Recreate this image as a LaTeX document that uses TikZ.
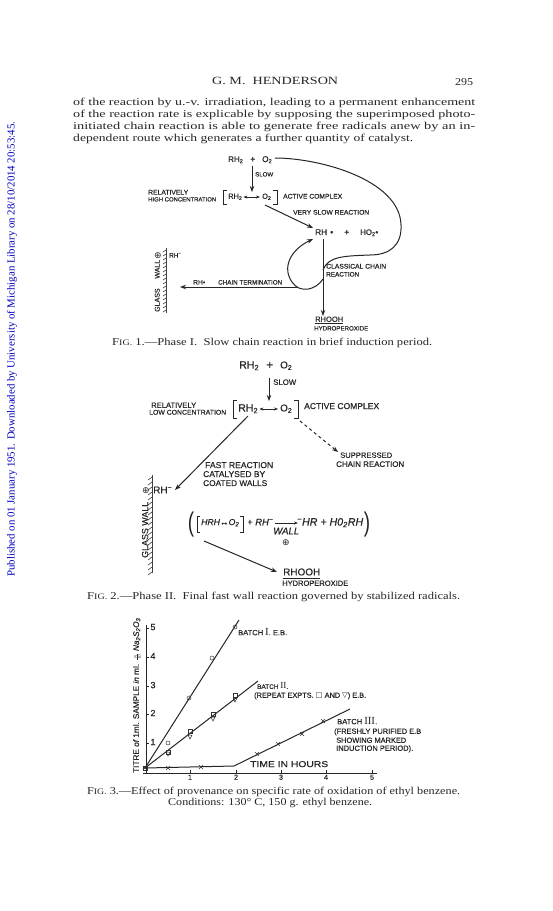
\documentclass[tikz,border=0pt]{standalone}
\usepackage{fontspec}
\usepackage{graphicx}
\setmainfont{Liberation Serif}
\setsansfont{Liberation Sans}
\newfontfamily\djv{DejaVu Sans}
\newfontfamily\labf[FakeBold=0.35]{Liberation Sans}
\usetikzlibrary{arrows.meta}
\newcommand{\fitw}[2]{\resizebox{#1pt}{!}{\strut #2}}
% width #1, nominal font size #2 (strut height is 0.84 of 10pt => 0.84 per point/10*10)
\newcommand{\fitwh}[3]{\resizebox{#1pt}{\dimexpr #2pt*84/100\relax}{\strut #3}}
\newcommand{\tsb}[1]{\textsubscript{#1}}
\newcommand{\figlab}[1]{F{\footnotesize IG.}~#1}
\newcommand{\romn}[1]{{\rmfamily\Large #1}}
\tikzset{
  x=1pt,y=-1pt,
  lab/.style={inner sep=0pt,anchor=west,font=\labf,text=black!85},
  prose/.style={inner sep=0pt,anchor=west,font=\rmfamily,text=black!85},
  conn/.style={line width=1pt,draw=black!85},
  arr/.style={conn,-{Stealth[length=6pt,width=4.5pt]}},
  wall/.style={line width=0.6pt,draw=black!75},
  mk/.style={line width=0.5pt,draw=black!80},
  plus/.style={inner sep=0pt,font=\djv\fontsize{9}{9}\selectfont,text=black!85},
  paren/.style={inner sep=0pt,xscale=0.7,font=\fontsize{27}{27}\selectfont\sffamily,text=black!85}
}
\begin{document}
\begin{tikzpicture}
\useasboundingbox (0,0) rectangle (552,911);
\fill[white] (0,0) rectangle (552,911);
% side stamp
\node[inner sep=0pt,rotate=90,anchor=west,text=blue!75!black,font=\rmfamily] (stamp) at (12,577) {\fitw{455}{Published on 01 January 1951. Downloaded by University of Michigan Library on 28/10/2014 20:53:45.}};
% header and prose
\node[prose] (head) at (212,82) {\fitwh{126}{11}{G. M.\ \ HENDERSON}};
\node[prose] (page) at (455,83) {\fitwh{18}{10.5}{295}};
\node[prose] (l1) at (73,103) {\fitwh{402}{10.5}{of the reaction by u.-v. irradiation, leading to a permanent enhancement}};
\node[prose] (l2) at (73,115) {\fitwh{402}{10.5}{of the reaction rate is explicable by supposing the superimposed photo-}};
\node[prose] (l3) at (73,127) {\fitwh{402}{10.5}{initiated chain reaction is able to generate free radicals anew by an in-}};
\node[prose] (l4) at (73,139) {\fitwh{340}{10.5}{dependent route which generates a further quantity of catalyst.}};

% ===== Figure 1 =====
\node[lab] (a1) at (228,160) {\fitw{15}{RH\tsb{2}}};
\node[lab] (a2) at (250,160) {\fitw{5}{+}};
\node[lab] (a3) at (262,160) {\fitw{10}{O\tsb{2}}};
\coordinate (a4) at (252,166);
\coordinate (a5) at (252,192);
\draw[arr] (a4) -- (a5);
\node[lab] (a6) at (255,175) {\fitw{18}{SLOW}};
\node[lab] (a7) at (148,193) {\fitw{40}{RELATIVELY}};
\node[lab] (a8) at (148,200) {\fitw{68}{HIGH CONCENTRATION}};
\node[lab] (a9) at (228,197) {\fitw{14}{RH\tsb{2}}};
\node[lab] (a10) at (262,197) {\fitw{9}{O\tsb{2}}};
\draw[conn,{Stealth[length=4pt,width=3pt]}-{Stealth[length=4pt,width=3pt]}] (a9.east) ++(1,0) -- ([xshift=-2pt]a10.west);
\draw[conn] (227,190) -- (223,190) -- (223,204) -- (227,204);
\draw[conn] (273,190) -- (277,190) -- (277,204) -- (273,204);
\node[lab] (a11) at (283,197) {\fitw{59}{ACTIVE COMPLEX}};
\node[lab] (a12) at (293,213) {\fitw{76}{VERY SLOW REACTION}};
\coordinate (a13) at (265,205);
\coordinate (a14) at (313,228);
\draw[arr] (a13) -- (a14);
\node[lab] (a15) at (315,233) {\fitw{12}{RH}};
\node[lab] (a16) at (330,233) {\fitw{3}{•}};
\node[lab] (a17) at (344,233) {\fitw{5}{+}};
\node[lab] (a18) at (360,233) {\fitw{18}{HO\tsb{2}•}};
\coordinate (a19) at (323,239);
\node[lab] (a20) at (315,320) {\fitw{28}{RHOOH}};
\draw[arr] (a19) -- (323,316);
\draw[conn] (a20.south west) ++(0,-1) -- ++(28,0);
\node[lab] (a21) at (314,329) {\fitw{54}{HYDROPEROXIDE}};
\coordinate (a22) at (275,158);
\coordinate (a23) at (323,270);
\draw[conn] (a22) .. controls (320,158) and (400,180) .. (401,225) .. controls (402,245) and (390,255) .. (370,255) .. controls (345,256) and (328,256) .. (a23);
\coordinate (a24) at (323,279);
\coordinate (a25) at (313,239);
\draw[arr] (a24) .. controls (316,290) and (300,294) .. (292,282) .. controls (282,268) and (290,250) .. (a25);
\coordinate (a26) at (297,287);
\coordinate (a27) at (180,287);
\draw[arr] (a26) -- (a27);
\node[lab] (a28) at (193,283) {\fitw{12}{RH•}};
\node[lab] (a29) at (218,283) {\fitw{64}{CHAIN TERMINATION}};
\node[lab] (a30) at (326,267) {\fitw{60}{CLASSICAL CHAIN}};
\node[lab] (a31) at (326,275) {\fitw{33}{REACTION}};
\draw[wall] (166,248) -- (166,313);
\foreach \yy in {250,254,...,312} \draw[wall] (166,\yy) -- (163,\yy+2);
\node[plus] (a32) at (158,256) {⊕};
\node[lab] (a33) at (169,256) {\fitw{12}{RH\textsuperscript{−}}};
\node[lab,rotate=90] (a34) at (158,312) {\fitw{52}{GLASS\ \ \ \ \ WALL}};
\node[prose] (c1) at (112,343) {\fitwh{320}{10.5}{\figlab{1}.—Phase I.\ \ Slow chain reaction in brief induction period.}};

% ===== Figure 2 =====
\node[lab] (b1) at (239,366) {\fitw{20}{RH\tsb{2}}};
\node[lab] (b2) at (266,366) {\fitw{7}{+}};
\node[lab] (b3) at (280,366) {\fitw{12}{O\tsb{2}}};
\coordinate (b4) at (269,378);
\coordinate (b5) at (269,401);
\draw[arr] (b4) -- (b5);
\node[lab] (b6) at (273,383) {\fitw{23}{SLOW}};
\node[lab] (b7) at (151,406) {\fitw{45}{RELATIVELY}};
\node[lab] (b8) at (149,413) {\fitw{77}{LOW CONCENTRATION}};
\node[lab] (b9) at (238,409) {\fitw{20}{RH\tsb{2}}};
\node[lab] (b10) at (280,409) {\fitw{12}{O\tsb{2}}};
\draw[conn,{Stealth[length=4pt,width=3pt]}-{Stealth[length=4pt,width=3pt]}] (b9.east) ++(1,0) -- ([xshift=-2pt]b10.west);
\draw[conn] (237,400) -- (233,400) -- (233,418) -- (237,418);
\draw[conn] (294,400) -- (298,400) -- (298,418) -- (294,418);
\node[lab] (b11) at (304,407) {\fitw{75}{ACTIVE COMPLEX}};
\coordinate (b12) at (300,421);
\coordinate (b13) at (338,452);
\draw[arr,dashed] (b12) -- (b13);
\node[lab] (b14) at (340,456) {\fitw{52}{SUPPRESSED}};
\node[lab] (b15) at (336,465) {\fitw{68}{CHAIN REACTION}};
\coordinate (b16) at (248,416);
\coordinate (b17) at (175,490);
\draw[arr] (b16) -- (b17);
\node[lab] (b18) at (205,466) {\fitw{68}{FAST REACTION}};
\node[lab] (b19) at (203,475) {\fitw{62}{CATALYSED BY}};
\node[lab] (b20) at (203,484) {\fitw{64}{COATED WALLS}};
\draw[wall] (152,475) -- (152,573);
\foreach \yy in {477,482,...,572} \draw[wall] (152,\yy) -- (148,\yy+3);
\node[plus] (b21) at (146,491) {⊕};
\node[lab] (b22) at (153,491) {\fitw{19}{RH\textsuperscript{−}}};
\node[lab,rotate=90] (b23) at (146,558) {\fitw{56}{GLASS WALL}};
\node[paren] (b24) at (191,525) {(};
\node[paren] (b25) at (367,525) {)};
\draw[conn,line width=0.8pt] (200,516) -- (197,516) -- (197,532) -- (200,532);
\draw[conn,line width=0.8pt] (240,516) -- (243,516) -- (243,532) -- (240,532);
\node[lab,font=\labf\itshape] (b26) at (201,523) {\fitw{38}{HRH↔O\tsb{2}}};
\node[lab,font=\labf\itshape] (b35) at (247,523) {\fitw{26}{+ RH\textsuperscript{−}}};
\node[lab,font=\labf\itshape] (b27) at (297,523) {\fitw{66}{\textsuperscript{−}HR + H0\tsb{2}RH}};
\draw[conn,line width=0.8pt,-{Stealth[length=4pt,width=3pt]}] ([xshift=2pt]b35.east) -- ([xshift=1pt]b27.west);
\node[lab,font=\labf\itshape] (b28) at (273,532) {\fitw{26}{WALL}};
\node[plus] (b29) at (286,543) {⊕};
\coordinate (b30) at (204,541);
\coordinate (b31) at (277,572);
\draw[arr] (b30) -- (b31);
\node[lab] (b32) at (283,573) {\fitw{37}{RHOOH}};
\draw[conn] (b32.south west) ++(0,-1) -- ++(37,0);
\node[lab] (b33) at (282,584) {\fitw{66}{HYDROPEROXIDE}};
\node[prose] (c2) at (87,597) {\fitwh{373}{10.5}{\figlab{2}.—Phase II.\ \ Final fast wall reaction governed by stabilized radicals.}};

% ===== Figure 3 =====
\coordinate (o) at (146,773);
\coordinate (yt) at (146,625);
\coordinate (xr) at (377,773);
\draw[conn] (yt) -- (o) -- (xr);
\draw[conn] (143,773) -- (o);
\foreach \v/\yy in {1/743,2/714,3/686,4/657,5/628} {
  \draw[conn,line width=0.5pt] (146,\yy) -- (149,\yy);
  \node[lab,anchor=center] (yl\v) at (153,\yy) {\fitw{5}{\v}};
}
\foreach \v/\xx in {1/190,2/236,3/281,4/326,5/372} {
  \draw[conn,line width=0.5pt] (\xx,773) -- (\xx,770);
  \node[lab,anchor=center] (xl\v) at (\xx,778) {\fitw{4}{\v}};
}
\coordinate (s0) at (145,768);
\coordinate (s1) at (239,620);
\coordinate (s2) at (258,681);
\coordinate (s3) at (234,766);
\coordinate (s4) at (350,709);
\draw[conn] (s0) -- (s1);
\draw[conn] (s0) -- (s2);
\draw[conn] (s0) -- (s3) -- (s4);
\foreach \xx/\yy in {168/743,189/698,212/658,235/627} \draw[mk] (\xx,\yy) circle (2);
\foreach \xx/\yy in {145/768,168/752,190/731,213/714,235/695} \draw[mk] (\xx-2,\yy-2) rectangle (\xx+2,\yy+2);
\foreach \xx/\yy in {168/754,190/737,213/719,235/700} \draw[mk] (\xx-2,\yy-2) -- (\xx+2,\yy-2) -- (\xx,\yy+2) -- cycle;
\foreach \xx/\yy in {145/768,168/768,201/767,257/754,278/744,302/734,323/721} {
  \draw[mk] (\xx-2,\yy-2) -- (\xx+2,\yy+2);
  \draw[mk] (\xx-2,\yy+2) -- (\xx+2,\yy-2);
}
\node[lab] (d1) at (238,633) {\fitw{49}{BATCH \romn{I}. E.B.}};
\node[lab] (d2) at (257,687) {\fitw{31}{BATCH \romn{II}.}};
\node[lab] (d3) at (254,696) {\fitw{112}{(REPEAT EXPTS. {\djv □} AND {\djv ▽}) E.B.}};
\node[lab] (d4) at (337,722) {\fitw{40}{BATCH \romn{III}.}};
\node[lab] (d5) at (334,732) {\fitw{87}{(FRESHLY PURIFIED E.B}};
\node[lab] (d6) at (336,741) {\fitw{70}{SHOWING MARKED}};
\node[lab] (d7) at (336,749) {\fitw{77}{INDUCTION PERIOD).}};
\node[lab] (d8) at (250,765) {\fitwh{78}{8.5}{TIME IN HOURS}};
\node[lab,rotate=90] (d9) at (137,773) {\fitw{155}{TITRE {\itshape of} 1ml. SAMPLE {\itshape in} ml. {\scriptsize$\frac{\mathrm N}{10}$} {\itshape Na\tsb{2}S\tsb{2}O\tsb{3}}}};
\node[prose] (c3) at (87,792) {\fitwh{373}{10.5}{\figlab{3}.—Effect of provenance on specific rate of oxidation of ethyl benzene.}};
\node[prose] (c4) at (168,803) {\fitwh{204}{10.5}{Conditions: 130° C, 150 g. ethyl benzene.}};
\end{tikzpicture}
\end{document}
